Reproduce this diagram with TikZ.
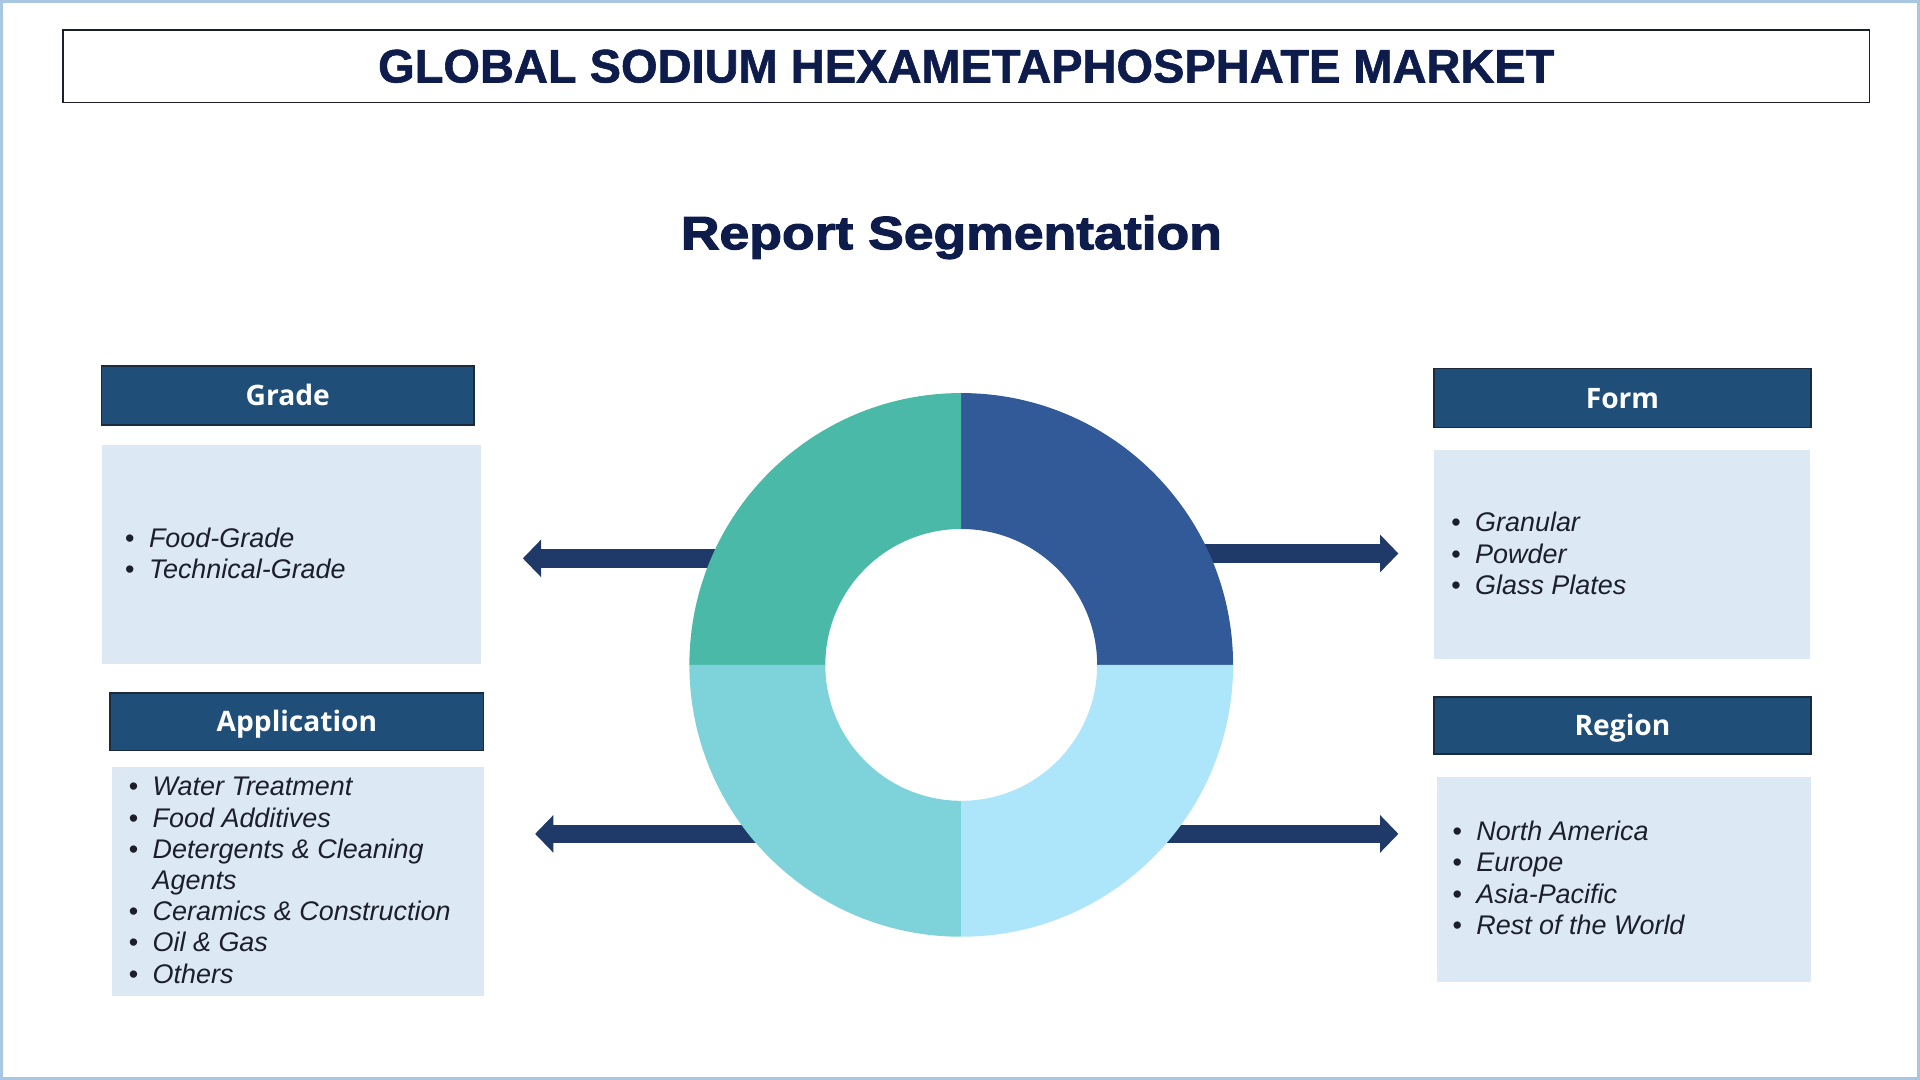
\documentclass[tikz,border=0pt]{standalone}
\usepackage{fontspec}
\setmainfont{Liberation Sans}
\newfontfamily\titlefont[FakeBold=1.2]{Liberation Sans Bold}
\newfontfamily\repfont[FakeStretch=1.15,FakeBold=2.5]{Liberation Sans Bold}
\newfontfamily\headfont{Open Sans}
\usetikzlibrary{arrows.meta}
\definecolor{navy}{HTML}{0E1C4C}
\definecolor{hdrc}{HTML}{1F4E79}
\definecolor{hdrline}{HTML}{1C2B3C}
\definecolor{panelc}{HTML}{DDE8F5}
\definecolor{arrowc}{HTML}{1F3A68}
\definecolor{cTL}{HTML}{4AB9A8}
\definecolor{cTR}{HTML}{325A98}
\definecolor{cBR}{HTML}{ADE6FA}
\definecolor{cBL}{HTML}{7ED3DA}
\definecolor{framec}{HTML}{A9C6E3}
\definecolor{itemc}{HTML}{1B1F2B}
\definecolor{titleline}{HTML}{1A1F2E}
\newcommand\blt{\makebox[19.5pt][l]{\upshape\textbullet}}
\begin{document}
\begin{tikzpicture}[x=1pt,y=-1pt,
  hdr/.style={draw=hdrline, line width=1.3pt, fill=hdrc, text=white,
    font=\headfont\bfseries\fontsize{23}{28}\selectfont,
    text height=16.5pt, text depth=0pt, inner sep=0pt},
  panel/.style={fill=panelc, inner sep=0pt},
  items/.style={text=itemc, font=\fontsize{22}{25.5}\selectfont\itshape,
    align=left, anchor=west, inner sep=0pt},
  arr/.style={draw=arrowc, line width=15pt, -{Triangle[width=30pt,length=15pt]}}]
\useasboundingbox (0,0) rectangle (1568,882);
\fill[white] (0,0) rectangle (1568,882);
\draw[framec, line width=2.5pt] (1.25,1.25) rectangle (1566.75,880.75);

% title
\node[draw=titleline, line width=1.3pt, minimum width=1475pt, minimum height=59pt,
  anchor=north west, inner sep=0pt] (tbox) at (51,24) {};
\node[text=navy, font=\titlefont\fontsize{38.4}{40}\selectfont, inner sep=0pt]
  (title) at (tbox.center) {GLOBAL SODIUM HEXAMETAPHOSPHATE MARKET};
\node[text=navy, font=\repfont\fontsize{38}{40}\selectfont, text height=27pt,
  text depth=0pt, inner sep=0pt] (rep) at (777,190) {Report Segmentation};

% arrows (behind donut)
\coordinate (c) at (785,543);
\coordinate (aTLs) at (640,456);  \coordinate (aTLe) at (427,456);
\coordinate (aTRs) at (930,452);  \coordinate (aTRe) at (1142,452);
\coordinate (aBLs) at (650,681);  \coordinate (aBLe) at (437,681);
\coordinate (aBRs) at (920,681);  \coordinate (aBRe) at (1142,681);
\draw[arr] (aTLs) -- (aTLe);
\draw[arr] (aTRs) -- (aTRe);
\draw[arr] (aBLs) -- (aBLe);
\draw[arr] (aBRs) -- (aBRe);

% donut
\begin{scope}[shift={(c)}, y=1pt]
  \fill[cTR] (0:111pt) -- (0:222pt) arc[start angle=0, end angle=90, radius=222pt]
    -- (90:111pt) arc[start angle=90, end angle=0, radius=111pt] -- cycle;
  \fill[cTL] (90:111pt) -- (90:222pt) arc[start angle=90, end angle=180, radius=222pt]
    -- (180:111pt) arc[start angle=180, end angle=90, radius=111pt] -- cycle;
  \fill[cBL] (180:111pt) -- (180:222pt) arc[start angle=180, end angle=270, radius=222pt]
    -- (270:111pt) arc[start angle=270, end angle=180, radius=111pt] -- cycle;
  \fill[cBR] (270:111pt) -- (270:222pt) arc[start angle=270, end angle=360, radius=222pt]
    -- (360:111pt) arc[start angle=360, end angle=270, radius=111pt] -- cycle;
\end{scope}

% Grade
\node[hdr, minimum width=304pt, minimum height=48pt] (hGrade) at (235,323) {Grade};
\node[panel, minimum width=310pt, minimum height=179pt, anchor=north west] (bGrade) at (83,363) {};
\node[items] (tGrade) at (102,452) {\blt Food-Grade\\ \blt Technical-Grade};

% Application
\node[hdr, minimum width=305pt, minimum height=47pt] (hApp) at (242.5,589.5) {Application};
\node[panel, minimum width=304pt, minimum height=187pt, anchor=north west] (bApp) at (91,626) {};
\node[items] (tApp) at (105,719) {\blt Water Treatment\\ \blt Food Additives\\
  \blt Detergents \& Cleaning\\ \makebox[19.5pt]{}Agents\\ \blt Ceramics \& Construction\\
  \blt Oil \& Gas\\ \blt Others};

% Form
\node[hdr, minimum width=308pt, minimum height=48pt] (hForm) at (1325,325) {Form};
\node[panel, minimum width=307pt, minimum height=171pt, anchor=north west] (bForm) at (1171,367) {};
\node[items] (tForm) at (1185,452) {\blt Granular\\ \blt Powder\\ \blt Glass Plates};

% Region
\node[hdr, minimum width=308pt, minimum height=47pt] (hReg) at (1325,592.5) {Region};
\node[panel, minimum width=306pt, minimum height=168pt, anchor=north west] (bReg) at (1173,634) {};
\node[items] (tReg) at (1186,717) {\blt North America\\ \blt Europe\\ \blt Asia-Pacific\\ \blt Rest of the World};
\end{tikzpicture}
\end{document}
